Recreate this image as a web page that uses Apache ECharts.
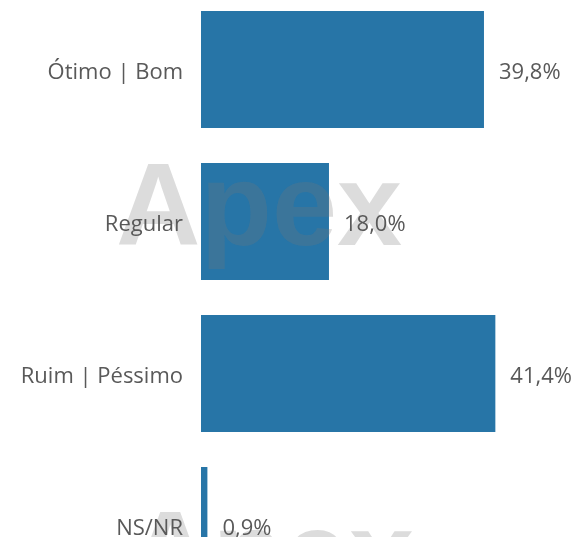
<!DOCTYPE html>
<html>
<head>
<meta charset="utf-8">
<script src="https://cdn.jsdelivr.net/npm/echarts@6/dist/echarts.min.js"></script>
<style>
  html, body { margin: 0; padding: 0; background: #fff; }
  #chart { width: 577px; height: 537px; }
</style>
</head>
<body>
<div id="chart"></div>
<script>
// dados
var categorias = ["Ótimo | Bom", "Regular", "Ruim | Péssimo", "NS/NR"];
var valores = [39.8, 18.0, 41.4, 0.9];
var marcaDagua = "Apex";

var chart = echarts.init(document.getElementById("chart"));

var fonte = "'Open Sans', 'Noto Sans', sans-serif";

var option = {
  animation: false,
  grid: {
    left: 201,
    top: -6.5,
    width: 355.5,
    height: 608,
    outerBoundsMode: "none",
    containLabel: false,
  },
  xAxis: {
    type: "value",
    min: 0,
    max: 50,
    show: false,
  },
  yAxis: {
    type: "category",
    inverse: true,
    data: categorias,
    axisLine: { show: false },
    axisTick: { show: false },
    axisLabel: { show: false },
  },
  graphic: [
    {
      type: "text",
      z: 5,
      left: 116,
      top: 154,
      style: {
        text: marcaDagua,
        font: "bold 117px 'Liberation Sans', Arial, sans-serif",
        fill: "rgba(120,120,120,0.26)",
      },
    },
    {
      type: "text",
      z: 5,
      left: 128,
      top: 502,
      style: {
        text: marcaDagua,
        font: "bold 117px 'Liberation Sans', Arial, sans-serif",
        fill: "rgba(120,120,120,0.26)",
      },
    },
  ],
  series: [
    {
      type: "bar",
      data: valores,
      barWidth: 117,
      z: 2,
      itemStyle: { color: "#2775a7" },
    },
    {
      // rótulos de valor, acima da marca d'água
      type: "bar",
      data: valores,
      barWidth: 117,
      barGap: "-100%",
      z: 10,
      itemStyle: { color: "transparent" },
      label: {
        show: true,
        position: "right",
        distance: 15,
        offset: [0, 3],
        color: "#595959",
        fontSize: 22,
        fontFamily: fonte,
        formatter: function (p) {
          return p.value.toFixed(1).replace(".", ",") + "%";
        },
      },
    },
    {
      // rótulos das categorias
      type: "bar",
      data: valores,
      barWidth: 117,
      barGap: "-100%",
      z: 10,
      itemStyle: { color: "transparent" },
      label: {
        show: true,
        position: "left",
        distance: 18,
        offset: [0, 3],
        color: "#595959",
        fontSize: 22,
        fontFamily: fonte,
        formatter: function (p) {
          return p.name;
        },
      },
    },
  ],
};

chart.setOption(option);
</script>
</body>
</html>
